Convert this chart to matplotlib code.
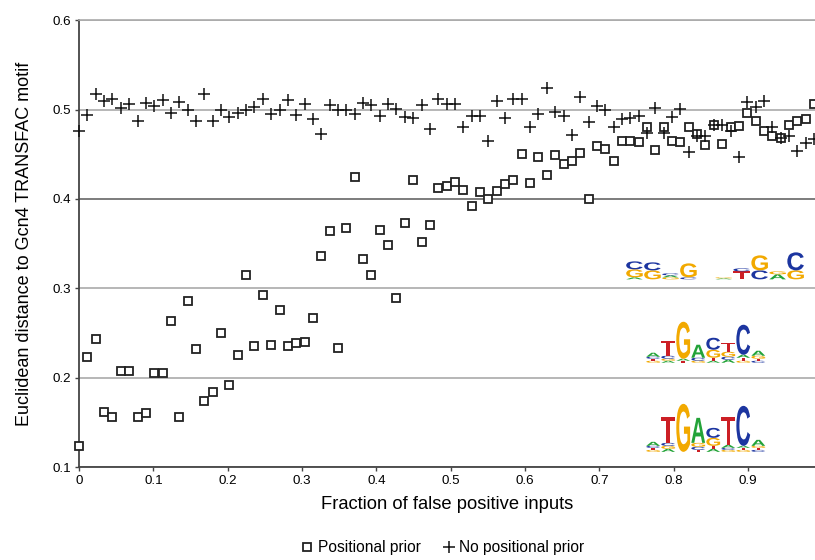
import matplotlib
matplotlib.use('Agg')
import matplotlib.pyplot as plt
import numpy as np
from matplotlib.textpath import TextPath
from matplotlib.patches import PathPatch
from matplotlib.font_manager import FontProperties
from matplotlib.transforms import Affine2D

plt.rcParams['font.family'] = ['Liberation Sans', 'DejaVu Sans']

# x positions: 89 runs, fraction of false positive inputs
n_points = 89
frac = np.arange(n_points) / n_points

positional = [
    0.124, 0.223, 0.243, 0.162, 0.156, 0.208, 0.207, 0.156, 0.160, 0.205,
    0.205, 0.263, 0.156, 0.286, 0.232, 0.174, 0.184, 0.250, 0.192, 0.225,
    0.315, 0.235, 0.293, 0.236, 0.276, 0.235, 0.239, 0.240, 0.267, 0.336,
    0.364, 0.233, 0.368, 0.424, 0.333, 0.315, 0.365, 0.348, 0.289, 0.373,
    0.421, 0.352, 0.371, 0.412, 0.415, 0.419, 0.410, 0.392, 0.408, 0.400,
    0.409, 0.417, 0.421, 0.450, 0.418, 0.447, 0.427, 0.449, 0.439, 0.442,
    0.451, 0.400, 0.459, 0.456, 0.442, 0.465, 0.465, 0.464, 0.480, 0.455,
    0.480, 0.465, 0.464, 0.481, 0.473, 0.460, 0.483, 0.461, 0.481, 0.482,
    0.496, 0.487, 0.476, 0.470, 0.468, 0.483, 0.487, 0.489, 0.506,
]

no_positional = [
    0.476, 0.494, 0.517, 0.509, 0.512, 0.502, 0.506, 0.487, 0.507, 0.504,
    0.511, 0.496, 0.508, 0.500, 0.487, 0.517, 0.487, 0.499, 0.492, 0.496,
    0.499, 0.503, 0.512, 0.495, 0.500, 0.511, 0.494, 0.506, 0.489, 0.473,
    0.505, 0.500, 0.500, 0.495, 0.507, 0.505, 0.493, 0.506, 0.501, 0.492,
    0.490, 0.505, 0.478, 0.512, 0.506, 0.506, 0.480, 0.493, 0.493, 0.465,
    0.509, 0.490, 0.512, 0.512, 0.480, 0.495, 0.524, 0.497, 0.493, 0.471,
    0.514, 0.486, 0.504, 0.499, 0.480, 0.489, 0.491, 0.493, 0.474, 0.502,
    0.474, 0.492, 0.501, 0.452, 0.470, 0.470, 0.483, 0.483, 0.476, 0.447,
    0.508, 0.503, 0.510, 0.480, 0.468, 0.470, 0.454, 0.463, 0.467,
]

x_ticks = [0, 0.1, 0.2, 0.3, 0.4, 0.5, 0.6, 0.7, 0.8, 0.9]
x_tick_labels = ['0', '0.1', '0.2', '0.3', '0.4', '0.5', '0.6', '0.7', '0.8', '0.9']
y_ticks = [0.1, 0.2, 0.3, 0.4, 0.5, 0.6]
y_tick_labels = ['0.1', '0.2', '0.3', '0.4', '0.5', '0.6']

# sequence logos: columns of (letter, relative height), stacked bottom to top
logo_no_prior_a = [
    [('A', 2), ('G', 8), ('C', 8)],
    [('G', 9), ('C', 8)],
    [('G', 2), ('A', 2), ('C', 2)],
    [('C', 2), ('G', 14)],
]
logo_no_prior_b = [
    [('A', 1), ('G', 1)],
    [('T', 8), ('C', 3)],
    [('C', 9), ('G', 15)],
    [('A', 5), ('G', 3)],
    [('G', 9), ('C', 18)],
]
logo_prior = [
    [('G', 2), ('T', 2), ('C', 2), ('A', 4)],
    [('A', 2), ('G', 2), ('C', 3), ('T', 15)],
    [('T', 2), ('A', 2), ('G', 37)],
    [('G', 2), ('C', 3), ('A', 13)],
    [('A', 2), ('T', 3), ('G', 8), ('C', 12)],
    [('A', 3), ('C', 3), ('G', 5), ('T', 9)],
    [('G', 2), ('T', 3), ('A', 3), ('C', 30)],
    [('C', 2), ('T', 2), ('G', 3), ('A', 5)],
]
logo_transfac = [
    [('G', 2), ('T', 2), ('C', 2), ('A', 4)],
    [('A', 3), ('G', 3), ('C', 3), ('T', 26)],
    [('G', 48)],
    [('T', 2), ('C', 3), ('G', 4), ('A', 25)],
    [('A', 3), ('T', 3), ('G', 8), ('C', 10)],
    [('G', 2), ('C', 2), ('A', 3), ('T', 28)],
    [('G', 2), ('T', 2), ('A', 2), ('C', 40)],
    [('C', 2), ('T', 2), ('G', 2), ('A', 6)],
]

logo_colors = {'A': '#23a338', 'C': '#1c35a0', 'G': '#f2a900', 'T': '#cc1f25'}
logo_font = FontProperties(family='Liberation Sans', weight='bold')


def draw_logo(ax, columns, x0, y0, col_w, unit):
    '''stack scaled letters column by column starting at (x0, y0)'''
    for i, col in enumerate(columns):
        y = y0
        for ch, h in col:
            hh = h * unit
            tp = TextPath((0, 0), ch, size=1, prop=logo_font)
            bb = tp.get_extents()
            tr = (Affine2D().translate(-bb.x0, -bb.y0)
                  .scale(col_w * 0.92 / bb.width, hh / bb.height)
                  .translate(x0 + i * col_w, y))
            patch = PathPatch(tr.transform_path(tp), facecolor=logo_colors[ch],
                              edgecolor='none', clip_on=False, zorder=4)
            ax.add_patch(patch)
            y += hh


fig = plt.figure(figsize=(8.15, 5.6), dpi=100)
ax = fig.add_axes([0.097, 0.166, 0.903, 0.798])

sq, = ax.plot(frac, positional, linestyle='none', marker='s', markersize=6,
              markerfacecolor='white', markeredgecolor='#222222',
              markeredgewidth=1.3, clip_on=False, zorder=3)
pl, = ax.plot(frac, no_positional, linestyle='none', marker='+', markersize=8,
              color='#111111', markeredgewidth=1.1, clip_on=False, zorder=3)

unit = 1.0 / 894
draw_logo(ax, logo_no_prior_a, 0.736, 0.310, 0.0242, unit)
draw_logo(ax, logo_no_prior_b, 0.856, 0.310, 0.0242, unit)
draw_logo(ax, logo_prior, 0.763, 0.2167, 0.0202, unit)
draw_logo(ax, logo_transfac, 0.763, 0.117, 0.0202, unit)

ax.set_xlim(0, 0.99)
ax.set_ylim(0.1, 0.6)
ax.set_xticks(x_ticks)
ax.set_xticklabels(x_tick_labels)
ax.set_yticks(y_ticks)
ax.set_yticklabels(y_tick_labels)
ax.tick_params(axis='both', direction='out', labelsize=9.6, length=3,
               width=1, color='#444444', pad=3)

ax.yaxis.grid(True, color='#aaaaaa', linewidth=1.2)
ax.get_ygridlines()[3].set_color('#666666')
ax.set_axisbelow(True)

ax.spines['right'].set_visible(False)
ax.spines['top'].set_color('#aaaaaa')
ax.spines['top'].set_linewidth(1.2)
for side in ['left', 'bottom']:
    ax.spines[side].set_color('#444444')
    ax.spines[side].set_linewidth(1.3)

ax.set_xlabel('Fraction of false positive inputs', fontsize=13.2, labelpad=6)
ax.set_ylabel('Euclidean distance to Gcn4 TRANSFAC motif', fontsize=13,
              labelpad=14)

fig.legend([sq, pl], ['Positional prior', 'No positional prior'], ncol=2,
           loc='center', bbox_to_anchor=(0.543, 0.022), frameon=False,
           fontsize=11.2, handlelength=0.8, handletextpad=0.3,
           columnspacing=1.4)

fig.savefig('out.png', dpi=100)
